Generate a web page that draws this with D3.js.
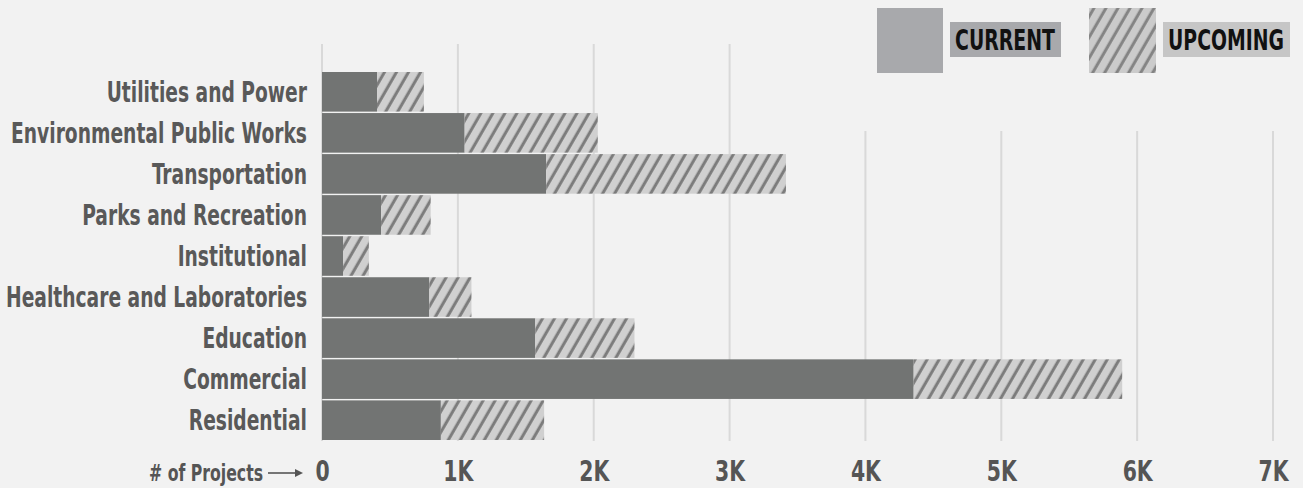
<!DOCTYPE html>
<html><head><meta charset="utf-8">
<script src="https://cdn.jsdelivr.net/npm/d3@7"></script>
<style>
body{margin:0;background:#f2f2f2;}
svg{display:block;}
text{font-family:"Liberation Sans Narrow","DejaVu Sans Condensed","Roboto",sans-serif;font-weight:bold;}
</style></head><body>
<svg id="c" width="1303" height="488"></svg>
<script>
const categories = ["Utilities and Power","Environmental Public Works","Transportation","Parks and Recreation","Institutional","Healthcare and Laboratories","Education","Commercial","Residential"];
const currentProjects = [405,1050,1650,435,155,790,1570,4355,875];
const upcomingProjects = [345,980,1765,365,190,310,730,1535,760];
const tickValues = [0,1000,2000,3000,4000,5000,6000,7000];
const tickLabels = ["0","1K","2K","3K","4K","5K","6K","7K"];
const seriesNames = ["CURRENT","UPCOMING"];
const axisTitle = "# of Projects";

const svg = d3.select("#c");
const W = 1303, H = 488;
svg.append("rect").attr("width",W).attr("height",H).attr("fill","#f2f2f2");

const defs = svg.append("defs");
function hatch(id, bg, fg){
  const p = defs.append("pattern").attr("id",id).attr("patternUnits","userSpaceOnUse")
    .attr("width",10.4).attr("height",10.4).attr("patternTransform","rotate(30)");
  p.append("rect").attr("width",10.4).attr("height",10.4).attr("fill",bg);
  p.append("line").attr("x1",5).attr("x2",5).attr("y1",-1).attr("y2",12).attr("stroke",fg).attr("stroke-width",3);
}
hatch("hatch","#d0d0d0","#7b7b7b");
hatch("hatchL","#cbcbcb","#838383");

const x = d3.scaleLinear().domain([0,7000]).range([322,1273]);
const y = d3.scaleBand().domain(categories).range([72,440]).paddingInner(0.035).paddingOuter(0);

function fit(sel, ref, target){
  const n = sel.nodes();
  const refNode = n.find(d=>d.textContent===ref) || n[0];
  const k = target / refNode.getComputedTextLength();
  n.forEach(t=>{ const w=t.getComputedTextLength(); t.setAttribute("textLength", w*k); t.setAttribute("lengthAdjust","spacingAndGlyphs"); });
}

// gridlines
svg.append("g").selectAll("line").data(tickValues).join("line")
  .attr("x1",d=>x(d)).attr("x2",d=>x(d))
  .attr("y1",d=>x(d)>850?131:44).attr("y2",441)
  .attr("stroke","#d9d9d9").attr("stroke-width",2);

// bars
const rows = categories.map((c,i)=>({c, cur:currentProjects[i], up:upcomingProjects[i]}));
const bars = svg.append("g");
bars.selectAll("rect.cur").data(rows).join("rect").attr("class","cur")
  .attr("x",x(0)).attr("y",d=>y(d.c)).attr("height",y.bandwidth())
  .attr("width",d=>x(d.cur)-x(0)).attr("fill","#727473");
bars.selectAll("rect.up").data(rows).join("rect").attr("class","up")
  .attr("x",d=>x(d.cur)).attr("y",d=>y(d.c)).attr("height",y.bandwidth())
  .attr("width",d=>x(d.cur+d.up)-x(d.cur)).attr("fill","url(#hatch)");

// category labels
const cl = svg.append("g").selectAll("text").data(categories).join("text")
  .attr("x",307).attr("y",d=>y(d)+y.bandwidth()/2+10)
  .attr("text-anchor","end").attr("fill","#595959").attr("font-size",27.5).text(d=>d);
fit(cl,"Healthcare and Laboratories",301);

// x axis
const ax = svg.append("g").attr("transform","translate(0,481)")
  .call(d3.axisBottom(x).tickValues(tickValues).tickFormat((d,i)=>tickLabels[i]).tickSize(0));
ax.select(".domain").remove();
ax.attr("font-family",null).attr("font-size",null);
const tl = ax.selectAll("text").attr("y",0).attr("dy",null)
  .attr("fill","#555").attr("font-size",28);
fit(tl,"5K",30);

// axis title + arrow
const at = svg.append("text").attr("x",263).attr("y",481).attr("text-anchor","end")
  .attr("fill","#555").attr("font-size",23).text(axisTitle);
fit(at,axisTitle,114);
svg.append("line").attr("x1",268).attr("x2",297).attr("y1",473).attr("y2",473)
  .attr("stroke","#555").attr("stroke-width",1.6);
svg.append("path").attr("d","M303,473 L295,469 L295,477 Z").attr("fill","#555");

// legend
const lg = svg.append("g");
lg.append("rect").attr("x",877).attr("y",8).attr("width",66).attr("height",65).attr("fill","#a8a9ac");
lg.append("rect").attr("x",950).attr("y",22).attr("width",111).attr("height",35).attr("fill","#a8a9ac");
lg.append("rect").attr("x",1089).attr("y",8).attr("width",67).attr("height",65).attr("fill","url(#hatchL)");
lg.append("rect").attr("x",1163).attr("y",22).attr("width",127).attr("height",35).attr("fill","#c6c6c6");
const lt = lg.selectAll("text").data([{t:seriesNames[0],x:1005,w:100},{t:seriesNames[1],x:1226,w:116}]).join("text")
  .attr("x",0).attr("y",50).attr("text-anchor","middle").attr("fill","#111").attr("font-size",28).text(d=>d.t);
lt.each(function(d){ const w=this.getComputedTextLength(); this.setAttribute("transform",`translate(${d.x},0) scale(${d.w/w},1)`); });
</script>
</body></html>
